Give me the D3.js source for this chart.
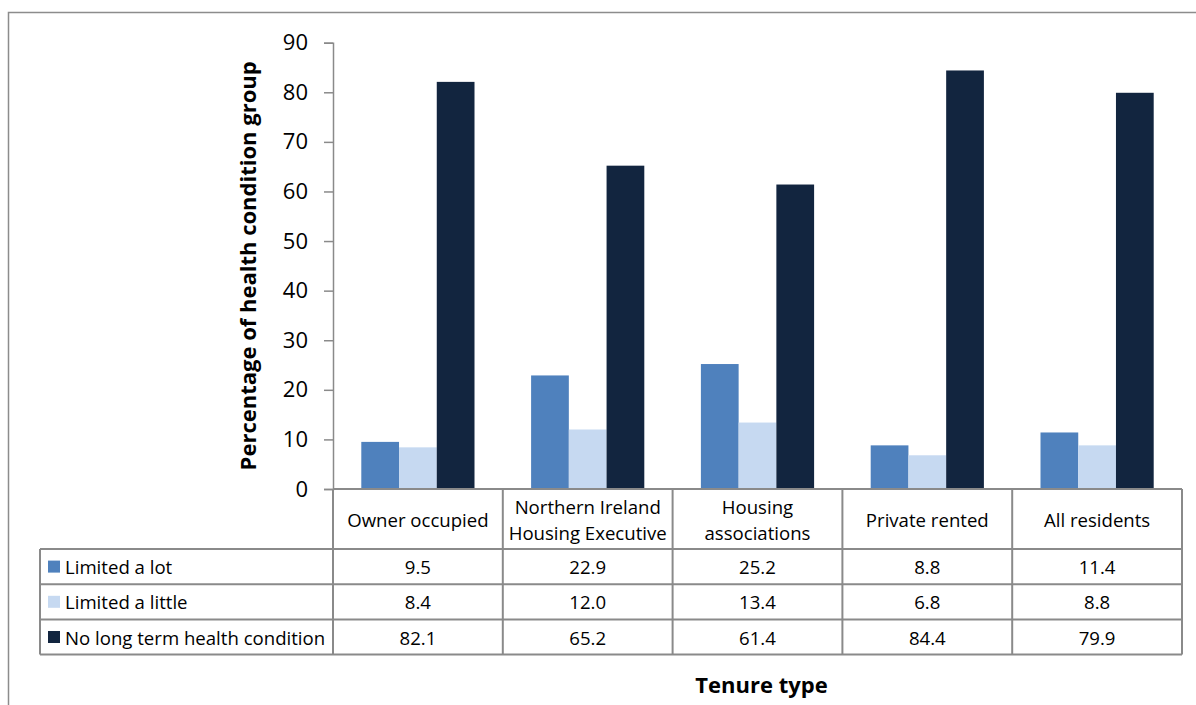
<!DOCTYPE html>
<html>
<head>
<meta charset="utf-8">
<script src="https://cdn.jsdelivr.net/npm/d3@7"></script>
<style>
  body { margin: 0; background: #fff; }
  svg { display: block; font-family: 'Open Sans', sans-serif; }
</style>
</head>
<body>
<div id="chart"></div>
<script>
// data
const categories = ['Owner occupied', 'Northern Ireland Housing Executive', 'Housing associations', 'Private rented', 'All residents'];
const categoryLines = [['Owner occupied'], ['Northern Ireland', 'Housing Executive'], ['Housing', 'associations'], ['Private rented'], ['All residents']];
const seriesNames = ['Limited a lot', 'Limited a little', 'No long term health condition'];
const limitedLot = [9.5, 22.9, 25.2, 8.8, 11.4];
const limitedLittle = [8.4, 12.0, 13.4, 6.8, 8.8];
const noCondition = [82.1, 65.2, 61.4, 84.4, 79.9];
const yTicks = [0, 10, 20, 30, 40, 50, 60, 70, 80, 90];

const seriesValues = [limitedLot, limitedLittle, noCondition];
const colors = ['#4f81bd', '#c6d9f1', '#12253f'];
const gridColor = '#8a8a8a';
const tableFont = '18.6px';

const W = 1196, H = 705;
const plot = { left: 333, right: 1182, top: 42.7, bottom: 489 };
const headerBottom = 549, rowH = 35.2, legendLeft = 40;

const svg = d3.select('#chart').append('svg')
  .attr('width', W)
  .attr('height', H);

// outer chart frame (runs off the page on right and bottom)
svg.append('rect')
  .attr('x', 8.5).attr('y', 12.5)
  .attr('width', W + 20).attr('height', H + 20)
  .attr('fill', 'none')
  .attr('stroke', '#8c8c8c')
  .attr('stroke-width', 1.5);

const y = d3.scaleLinear().domain([0, 90]).range([plot.bottom, plot.top]);
const x0 = d3.scaleBand().domain(categories).range([plot.left, plot.right]).padding(0);
const x1 = d3.scaleBand().domain(seriesNames).range([0, x0.bandwidth()]).paddingInner(0).paddingOuter(0.75);

// bars
const groups = svg.append('g').selectAll('g')
  .data(categories)
  .enter().append('g')
  .attr('transform', function (d) { return 'translate(' + x0(d) + ',0)'; });

groups.selectAll('rect')
  .data(function (d, i) {
    return seriesNames.map(function (s, j) { return { s: s, v: seriesValues[j][i], c: colors[j] }; });
  })
  .enter().append('rect')
  .attr('x', function (d) { return x1(d.s); })
  .attr('y', function (d) { return y(d.v); })
  .attr('width', x1.bandwidth())
  .attr('height', function (d) { return y(0) - y(d.v); })
  .attr('fill', function (d) { return d.c; });

// y axis
const yAxis = d3.axisLeft(y)
  .tickValues(yTicks)
  .tickSize(9)
  .tickPadding(16)
  .tickFormat(d3.format('d'));

const gy = svg.append('g')
  .attr('transform', 'translate(' + plot.left + ',0)')
  .call(yAxis);
gy.select('.domain').attr('stroke', gridColor).attr('stroke-width', 1.5);
gy.selectAll('.tick line').attr('stroke', gridColor).attr('stroke-width', 1.5);
gy.selectAll('.tick text')
  .attr('fill', '#000')
  .style('font-family', "'Open Sans', sans-serif")
  .style('font-size', '22px');

svg.append('text')
  .attr('transform', 'translate(247,' + ((plot.top + plot.bottom) / 2) + ') rotate(-90)')
  .attr('text-anchor', 'middle')
  .attr('dominant-baseline', 'central')
  .style('font-size', '22px')
  .style('font-weight', 'bold')
  .text('Percentage of health condition group');

// data table
const table = svg.append('g');
const lineStyle = function (sel) {
  return sel.attr('stroke', gridColor).attr('stroke-width', 2).attr('fill', 'none');
};

// horizontal lines
const rowYs = [headerBottom, headerBottom + rowH, headerBottom + 2 * rowH, headerBottom + 3 * rowH];
table.append('line').call(lineStyle)
  .attr('x1', plot.left).attr('x2', plot.right)
  .attr('y1', plot.bottom).attr('y2', plot.bottom);
rowYs.forEach(function (ry) {
  table.append('line').call(lineStyle)
    .attr('x1', legendLeft).attr('x2', plot.right)
    .attr('y1', ry).attr('y2', ry);
});

// vertical lines
const colXs = categories.map(function (c) { return x0(c); }).concat([plot.right]);
colXs.forEach(function (cx) {
  table.append('line').call(lineStyle)
    .attr('x1', cx).attr('x2', cx)
    .attr('y1', plot.bottom).attr('y2', rowYs[3]);
});
table.append('line').call(lineStyle)
  .attr('x1', legendLeft).attr('x2', legendLeft)
  .attr('y1', headerBottom).attr('y2', rowYs[3]);

// header labels
const headerMid = (plot.bottom + headerBottom) / 2;
categories.forEach(function (c, i) {
  const lines = categoryLines[i];
  const t = table.append('text')
    .attr('text-anchor', 'middle')
    .style('font-size', tableFont);
  lines.forEach(function (ln, k) {
    t.append('tspan')
      .attr('x', x0(c) + x0.bandwidth() / 2)
      .attr('y', headerMid + (k - (lines.length - 1) / 2) * 26)
      .attr('dominant-baseline', 'central')
      .text(ln);
  });
});

// value rows with legend keys
seriesNames.forEach(function (s, j) {
  const cy = headerBottom + rowH * j + rowH / 2;
  table.append('rect')
    .attr('x', 48).attr('y', cy - 6)
    .attr('width', 12).attr('height', 12)
    .attr('fill', colors[j]);
  table.append('text')
    .attr('x', 65).attr('y', cy)
    .attr('dominant-baseline', 'central')
    .style('font-size', tableFont)
    .text(s);
  categories.forEach(function (c, i) {
    table.append('text')
      .attr('x', x0(c) + x0.bandwidth() / 2)
      .attr('y', cy)
      .attr('text-anchor', 'middle')
      .attr('dominant-baseline', 'central')
      .style('font-size', tableFont)
      .text(d3.format('.1f')(seriesValues[j][i]));
  });
});

svg.append('text')
  .attr('x', (plot.left + plot.right) / 2 + 4)
  .attr('y', 684)
  .attr('text-anchor', 'middle')
  .attr('dominant-baseline', 'central')
  .style('font-size', '22px')
  .style('font-weight', 'bold')
  .text('Tenure type');
</script>
</body>
</html>
